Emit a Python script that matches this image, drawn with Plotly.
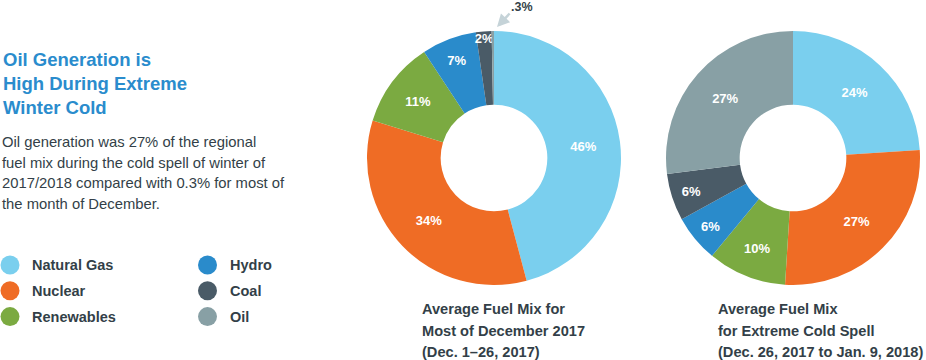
import plotly.graph_objects as go

W, H = 926, 360

categories = ["Natural Gas", "Nuclear", "Renewables", "Hydro", "Coal", "Oil"]
colors = ["#7ACFEE", "#EF6C25", "#7BAA41", "#2A8BCB", "#4A5B67", "#88A0A5"]

dec_values = [46, 34, 11, 7, 2, 0.3]
dec_labels = ["46%", "34%", "11%", "7%", "2%", ""]
cold_values = [24, 27, 10, 6, 6, 27]
cold_labels = ["24%", "27%", "10%", "6%", "6%", "27%"]

title_lines = ["Oil Generation is", "High During Extreme", "Winter Cold"]
body_lines = [
    "Oil generation was 27% of the regional",
    "fuel mix during the cold spell of winter of",
    "2017/2018 compared with 0.3% for most of",
    "the month of December.",
]
caption1 = ["Average Fuel Mix for", "Most of December 2017", "(Dec. 1\u201326, 2017)"]
caption2 = ["Average Fuel Mix", "for Extreme Cold Spell", "(Dec. 26, 2017 to Jan. 9, 2018)"]

FONT = "Liberation Sans, Arial, sans-serif"
DARK = "#333F48"
BLUE = "#2A8CCD"


def px(x):
    return x / W


def py(y):
    return 1 - y / H


def dom(cx, cy, r):
    return dict(x=[px(cx - r), px(cx + r)], y=[py(cy + r), py(cy - r)])


fig = go.Figure()
for vals, labs, (cx, cy) in [(dec_values, dec_labels, (494, 158)), (cold_values, cold_labels, (793, 158))]:
    fig.add_trace(go.Pie(
        labels=categories, values=vals, text=labs,
        texttemplate="%{text}", textinfo="text",
        textposition="inside", insidetextorientation="horizontal",
        textfont=dict(family=FONT, size=13, color="white", weight="bold"),
        marker=dict(colors=colors, line=dict(width=0)),
        hole=0.42, sort=False, direction="clockwise", rotation=0,
        domain=dom(cx, cy, 127), showlegend=False, hoverinfo="label+percent",
    ))

ann = []
for i, t in enumerate(title_lines):
    ann.append(dict(x=px(1), y=py(60 + i * 23.5), text=f"<b>{t}</b>", xanchor="left", yanchor="middle",
                    font=dict(family=FONT, size=18.5, color=BLUE)))
for i, t in enumerate(body_lines):
    ann.append(dict(x=px(0), y=py(142 + i * 20.7), text=t, xanchor="left", yanchor="middle",
                    font=dict(family=FONT, size=14.8, color=DARK)))
for i, t in enumerate(caption1):
    ann.append(dict(x=px(420), y=py(309 + i * 21.5), text=f"<b>{t}</b>", xanchor="left", yanchor="middle",
                    font=dict(family=FONT, size=14.6, color=DARK)))
for i, t in enumerate(caption2):
    ann.append(dict(x=px(716), y=py(309 + i * 21.5), text=f"<b>{t}</b>", xanchor="left", yanchor="middle",
                    font=dict(family=FONT, size=14.6, color=DARK)))

# Oil callout for December chart
ann.append(dict(x=px(497), y=py(27), ax=14, ay=-15, text="", showarrow=True, arrowhead=2,
                arrowsize=1, arrowwidth=2.5, arrowcolor="#C5D3D8", xanchor="center"))
ann.append(dict(x=px(509), y=py(6.5), text="<b>.3%</b>", xanchor="left", yanchor="middle", showarrow=False,
                font=dict(family=FONT, size=12.5, color=DARK)))

shapes = []
for i, (c, col) in enumerate(zip(categories, colors)):
    colx = 10 if i < 3 else 207.5
    rowy = 265 + (i % 3) * 25.8
    shapes.append(dict(type="circle", xref="paper", yref="paper", xsizemode="pixel", ysizemode="pixel",
                       xanchor=px(colx), yanchor=py(rowy), x0=-9.5, x1=9.5, y0=-9.5, y1=9.5,
                       fillcolor=col, line=dict(width=0)))
    ann.append(dict(x=px(colx + 20), y=py(rowy), text=f"<b>{c}</b>", xanchor="left", yanchor="middle",
                    font=dict(family=FONT, size=14.5, color=DARK)))

for a in ann:
    a.setdefault("showarrow", False)
    a["xref"] = "paper"
    a["yref"] = "paper"

fig.update_layout(
    width=W, height=H, margin=dict(l=0, r=0, t=0, b=0),
    paper_bgcolor="white", plot_bgcolor="white",
    annotations=ann, shapes=shapes, showlegend=False,
    uniformtext=dict(minsize=13, mode="show"),
)

fig.write_html("out.html", config={"displayModeBar": False},
               post_script="document.body.style.margin='0';document.body.style.overflow='hidden';")
